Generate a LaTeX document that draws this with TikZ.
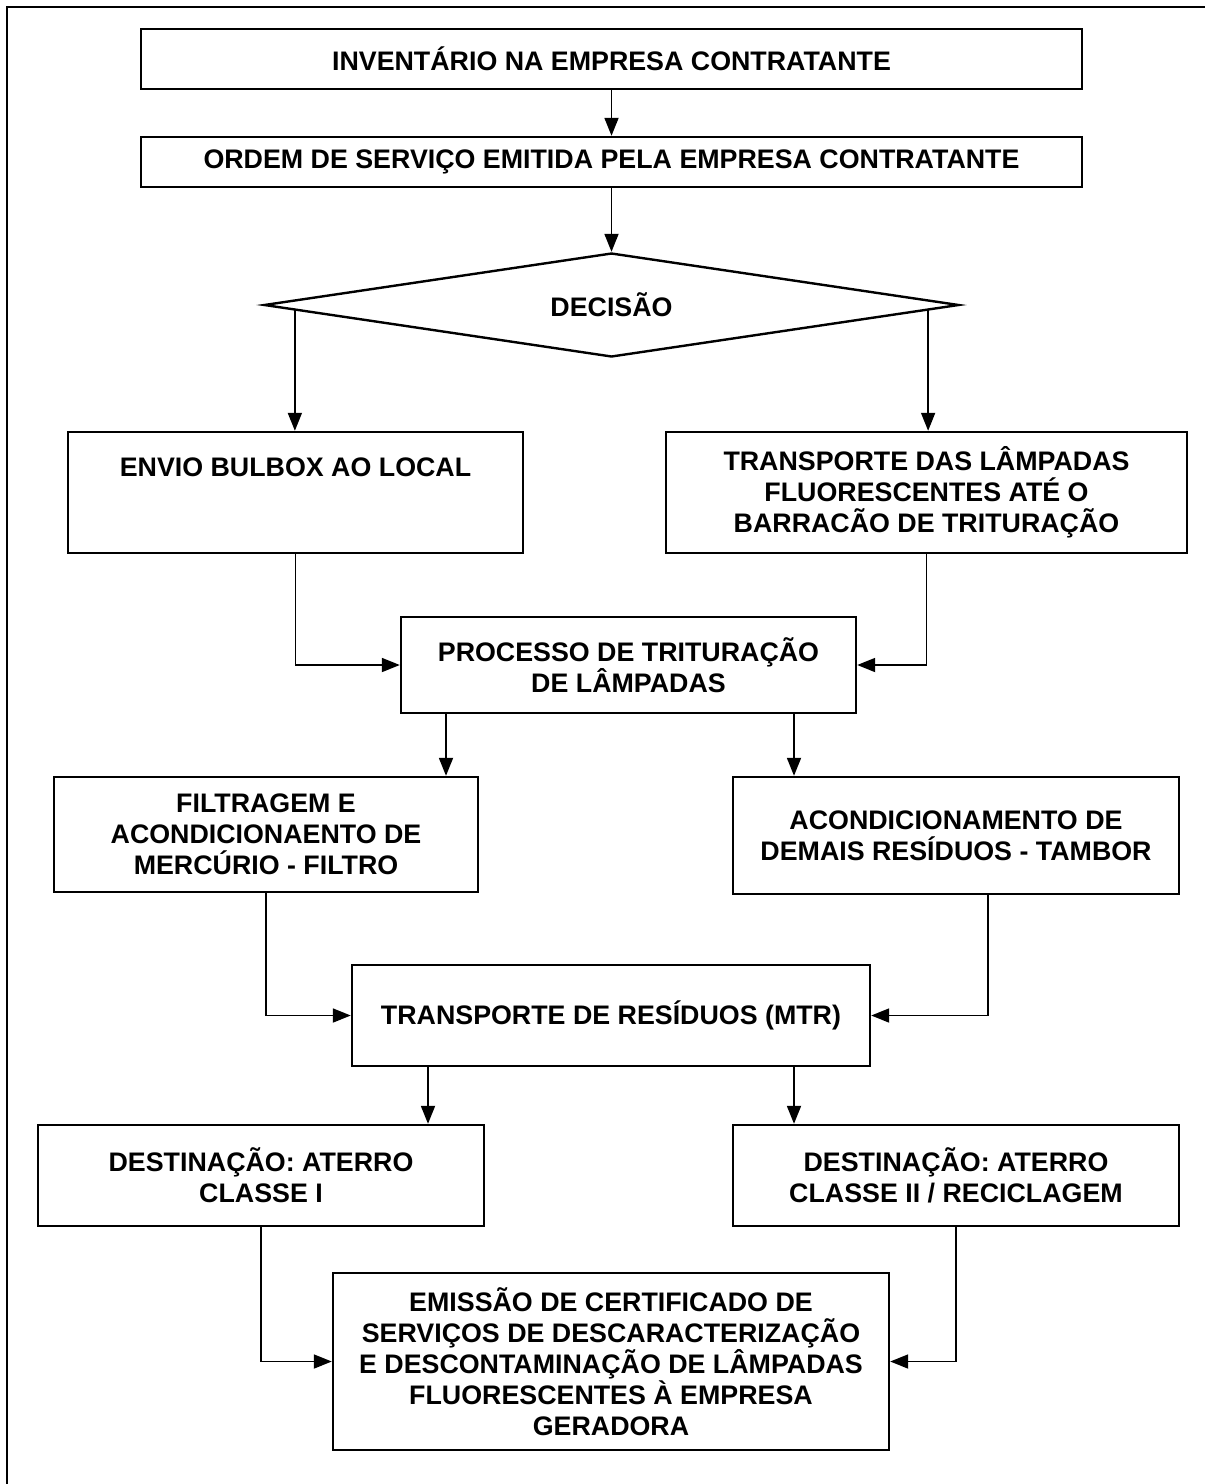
\documentclass[tikz,border=0pt]{standalone}
\usepackage{fontspec}
\setmainfont{Liberation Sans}
\usetikzlibrary{shapes.geometric,arrows.meta,calc}

\begin{document}
\begin{tikzpicture}[x=0.5pt,y=-0.5pt,
  box/.style={draw,line width=1.2pt,align=center,inner sep=2pt,
    font=\bfseries\fontsize{13.4}{15.5}\selectfont},
  arr/.style={line width=0.9pt,-{Triangle[width=7pt,length=9pt]}}]
  \useasboundingbox (0,0) rectangle (1205,1484);
  \draw[line width=1.3pt] (7,1484) -- (7,7) -- (1205,7);

  \node (inv) [box,minimum width=470.5pt,minimum height=30pt] at (611.5,59) {INVENTÁRIO NA EMPRESA CONTRATANTE};
  \node (ordem) [box,minimum width=470.5pt,minimum height=25pt] at (611.5,162) {ORDEM DE SERVIÇO EMITIDA PELA EMPRESA CONTRATANTE};
  \node (dec) [box,diamond,aspect=6,minimum width=347.5pt,minimum height=52pt,inner sep=0pt] at (611.5,305) {DECISÃO};
  \node (envio) [box,minimum width=227.5pt,minimum height=60.5pt] at (295.5,492.5) {ENVIO BULBOX AO LOCAL\\[10pt] \mbox{}};
  \node (transp) [box,minimum width=260.5pt,minimum height=60.5pt] at (926.5,492.5) {TRANSPORTE DAS LÂMPADAS\\FLUORESCENTES ATÉ O\\BARRACÃO DE TRITURAÇÃO};
  \node (proc) [box,minimum width=227.5pt,minimum height=48pt] at (628.5,665) {PROCESSO DE TRITURAÇÃO\\DE LÂMPADAS};
  \node (filt) [box,minimum width=212pt,minimum height=57.5pt] at (266,834.5) {FILTRAGEM E\\ACONDICIONAENTO DE\\MERCÚRIO - FILTRO};
  \node (acond) [box,minimum width=223pt,minimum height=58.5pt] at (956,835.5) {ACONDICIONAMENTO DE\\DEMAIS RESÍDUOS - TAMBOR};
  \node (trres) [box,minimum width=259pt,minimum height=50.5pt] at (611,1015.5) {TRANSPORTE DE RESÍDUOS (MTR)};
  \node (dest1) [box,minimum width=223pt,minimum height=50.5pt] at (261,1175.5) {DESTINAÇÃO: ATERRO\\CLASSE I};
  \node (dest2) [box,minimum width=223pt,minimum height=50.5pt] at (956,1175.5) {DESTINAÇÃO: ATERRO\\CLASSE II / RECICLAGEM};
  \node (emis) [box,minimum width=278pt,minimum height=88.5pt] at (611,1361.5) {EMISSÃO DE CERTIFICADO DE\\SERVIÇOS DE DESCARACTERIZAÇÃO\\E DESCONTAMINAÇÃO DE LÂMPADAS\\FLUORESCENTES À EMPRESA\\GERADORA};

  % pontos de saida
  \coordinate (decL) at ($(dec.west)!0.092!(dec.south)$);
  \coordinate (decR) at ($(dec.east)!0.092!(dec.south)$);
  \coordinate (procL) at ([xshift=-91.25pt]proc.south);
  \coordinate (procR) at ([xshift=82.75pt]proc.south);
  \coordinate (acondB) at ([xshift=16pt]acond.south);
  \coordinate (trresL) at ([xshift=-91.5pt]trres.south);
  \coordinate (trresR) at ([xshift=91.5pt]trres.south);

  \draw[arr] (inv) -- (ordem);
  \draw[arr] (ordem) -- (dec);
  \draw[arr] (decL) -- (decL |- envio.north);
  \draw[arr] (decR) -- (decR |- transp.north);
  \draw[arr] (envio) |- (proc);
  \draw[arr] (transp) |- (proc);
  \draw[arr] (procL) -- (procL |- filt.north);
  \draw[arr] (procR) -- (procR |- acond.north);
  \draw[arr] (filt) |- (trres);
  \draw[arr] (acondB) |- (trres.east);
  \draw[arr] (trresL) -- (trresL |- dest1.north);
  \draw[arr] (trresR) -- (trresR |- dest2.north);
  \draw[arr] (dest1) |- (emis);
  \draw[arr] (dest2) |- (emis);
\end{tikzpicture}
\end{document}
